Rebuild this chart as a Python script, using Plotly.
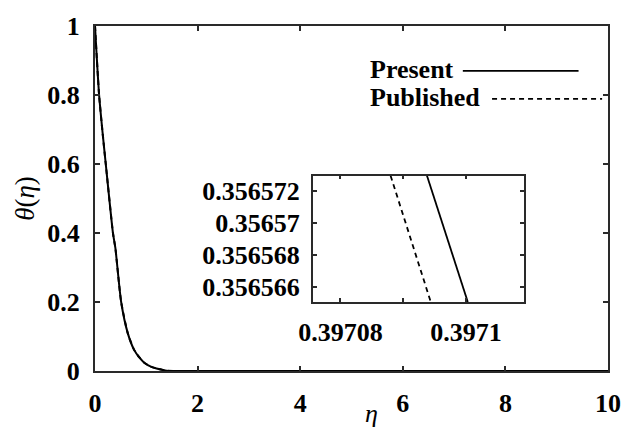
import plotly.graph_objects as go

# ---- data ----
eta_main = [0, 0.08, 0.155, 0.21, 0.35, 0.397, 0.51, 0.64, 0.76, 0.86, 0.96, 1.1, 1.2, 1.4, 2, 10]
theta_present = [1, 0.8, 0.68, 0.6, 0.4, 0.3566, 0.2, 0.109, 0.062, 0.04, 0.024, 0.012, 0.0075, 0.001, 0, 0]
theta_published = [1, 0.8, 0.68, 0.6, 0.4, 0.3566, 0.2, 0.109, 0.062, 0.04, 0.024, 0.012, 0.0075, 0.001, 0, 0]

inset_present_eta = [0.3970938, 0.3971003]
inset_published_eta = [0.3970880, 0.3970944]
inset_theta = [0.35657297, 0.35656503]

main_xticks = [0, 2, 4, 6, 8, 10]
main_yticks = [0, 0.2, 0.4, 0.6, 0.8, 1]
main_yticklabels = ["0", "0.2", "0.4", "0.6", "0.8", "1"]
inset_xticks = [0.39708, 0.39709, 0.39710]
inset_xticklabels = ["0.39708", "", "0.3971"]
inset_yticks = [0.356566, 0.356568, 0.356570, 0.356572]
inset_yticklabels = ["0.356566", "0.356568", "0.35657", "0.356572"]

FONT = "'Liberation Serif', 'Times New Roman', Times, serif"
AXC = "#2a2a2a"

fig = go.Figure()
fig.add_trace(go.Scatter(x=eta_main, y=theta_published, mode="lines",
                         line=dict(color="black", width=2, dash="5px,4px", shape="spline", smoothing=0.6),
                         showlegend=False))
fig.add_trace(go.Scatter(x=eta_main, y=theta_present, mode="lines",
                         line=dict(color="black", width=2, shape="spline", smoothing=0.6),
                         showlegend=False))
fig.add_trace(go.Scatter(x=inset_present_eta, y=inset_theta, mode="lines", xaxis="x2", yaxis="y2",
                         line=dict(color="black", width=1.8), showlegend=False))
fig.add_trace(go.Scatter(x=inset_published_eta, y=inset_theta, mode="lines", xaxis="x2", yaxis="y2",
                         line=dict(color="black", width=1.8, dash="5px,4px"), showlegend=False))

tickfont = dict(family=FONT, size=26, color="black", weight="bold")

fig.update_layout(
    width=633, height=430,
    margin=dict(l=95, r=15, t=17, b=58),
    paper_bgcolor="white", plot_bgcolor="white",
    showlegend=False,
    xaxis=dict(range=[0, 10], tickvals=main_xticks, ticks="inside", ticklen=5, tickwidth=1.5,
               tickcolor=AXC, showline=True, linecolor=AXC, linewidth=2, mirror="ticks",
               showgrid=False, zeroline=False, tickfont=tickfont, ticklabelstandoff=8),
    yaxis=dict(range=[0, 1], tickvals=main_yticks, ticktext=main_yticklabels, ticks="inside",
               ticklen=5, tickwidth=1.5, tickcolor=AXC, showline=True, linecolor=AXC, linewidth=2,
               mirror="ticks", showgrid=False, zeroline=False, tickfont=tickfont, ticklabelstandoff=8),
    xaxis2=dict(domain=[0.4245, 0.8356], anchor="y2",
                range=[0.3970756, 0.3971092], tickvals=inset_xticks, ticktext=inset_xticklabels,
                ticks="inside", ticklen=4, tickwidth=1.5, tickcolor=AXC, showline=True, linecolor=AXC,
                linewidth=1.5, mirror="ticks", showgrid=False, zeroline=False, tickfont=tickfont,
                ticklabelstandoff=6),
    yaxis2=dict(domain=[0.2, 0.5662], anchor="x2",
                range=[0.35656503, 0.35657297], tickvals=inset_yticks, ticktext=inset_yticklabels,
                ticks="inside", ticklen=4, tickwidth=1.5, tickcolor=AXC, showline=True, linecolor=AXC,
                linewidth=1.5, mirror="ticks", showgrid=False, zeroline=False, tickfont=tickfont,
                ticklabelstandoff=6),
)

# inset background
fig.add_shape(type="rect", xref="x2 domain", yref="y2 domain", x0=0, x1=1, y0=0, y1=1,
              fillcolor="white", line=dict(width=0), layer="below")

# axis titles
fig.add_annotation(text="<i>η</i>", xref="paper", yref="paper", x=0.539, y=-0.122,
                   xanchor="center", yanchor="middle", showarrow=False,
                   font=dict(family=FONT, size=26, color="black"))
fig.add_annotation(text="<i>θ</i>(<i>η</i>)", xref="paper", yref="paper", x=-0.1377, y=0.5,
                   xanchor="center", yanchor="middle", textangle=-90, showarrow=False,
                   font=dict(family=FONT, size=27, color="black"))

# legend (text left, sample line right)
legfont = dict(family=FONT, size=26, color="black", weight="bold")
fig.add_annotation(text="Present", xref="paper", yref="paper", x=0.5315, y=0.873,
                   xanchor="left", yanchor="middle", showarrow=False, font=legfont)
fig.add_annotation(text="Published", xref="paper", yref="paper", x=0.5315, y=0.7915,
                   xanchor="left", yanchor="middle", showarrow=False, font=legfont)
fig.add_shape(type="line", xref="paper", yref="paper", x0=0.717, x1=0.9426, y0=0.870, y1=0.870,
              line=dict(color="black", width=1.8))
fig.add_shape(type="line", xref="paper", yref="paper", x0=0.774, x1=0.9885, y0=0.789, y1=0.789,
              line=dict(color="black", width=1.8, dash="5px,4px"))

fig.write_html("out.html")
